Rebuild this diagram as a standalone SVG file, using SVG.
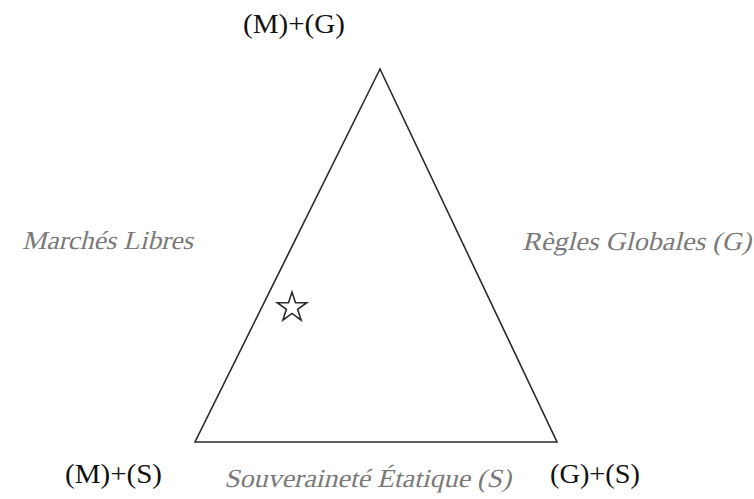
<svg xmlns="http://www.w3.org/2000/svg" width="754" height="499" viewBox="0 0 754 499">
<style>
.lbl{font-family:"Liberation Serif","Times New Roman",serif;font-size:28px;fill:#111}
.ax{font-family:"Liberation Serif","Times New Roman",serif;font-size:26px;fill:#7a7a7a}
.edge{fill:none;stroke:#2a2a2a;stroke-width:1.6;stroke-linejoin:miter}
</style>
<rect width="754" height="499" fill="#ffffff"/>
<g id="connectors">
<polygon class="edge" points="380,69 195,442 557,442"/>
</g>
<g id="node-MG"><text class="lbl" x="243" y="33" textLength="102" lengthAdjust="spacingAndGlyphs">(M)+(G)</text></g>
<g id="node-MS"><text class="lbl" x="65" y="483" textLength="97" lengthAdjust="spacingAndGlyphs">(M)+(S)</text></g>
<g id="node-GS"><text class="lbl" x="550" y="483" textLength="90" lengthAdjust="spacingAndGlyphs">(G)+(S)</text></g>
<g id="label-M" transform="translate(22,249) skewX(-14)"><text class="ax" x="0" y="0" textLength="171" lengthAdjust="spacingAndGlyphs">Marchés Libres</text></g>
<g id="label-G" transform="translate(522,250) skewX(-14)"><text class="ax" x="0" y="0" textLength="229" lengthAdjust="spacingAndGlyphs">Règles Globales (G)</text></g>
<g id="label-S" transform="translate(224,487) skewX(-14)"><text class="ax" x="0" y="0" textLength="287" lengthAdjust="spacingAndGlyphs">Souveraineté Étatique (S)</text></g>
<g id="star"><polygon points="292,292 295.48,302.71 306.74,302.71 297.63,309.33 301.11,320.04 292,313.42 282.89,320.04 286.37,309.33 277.26,302.71 288.52,302.71" fill="none" stroke="#2a2a2a" stroke-width="1.6" stroke-linejoin="miter"/></g>
</svg>
